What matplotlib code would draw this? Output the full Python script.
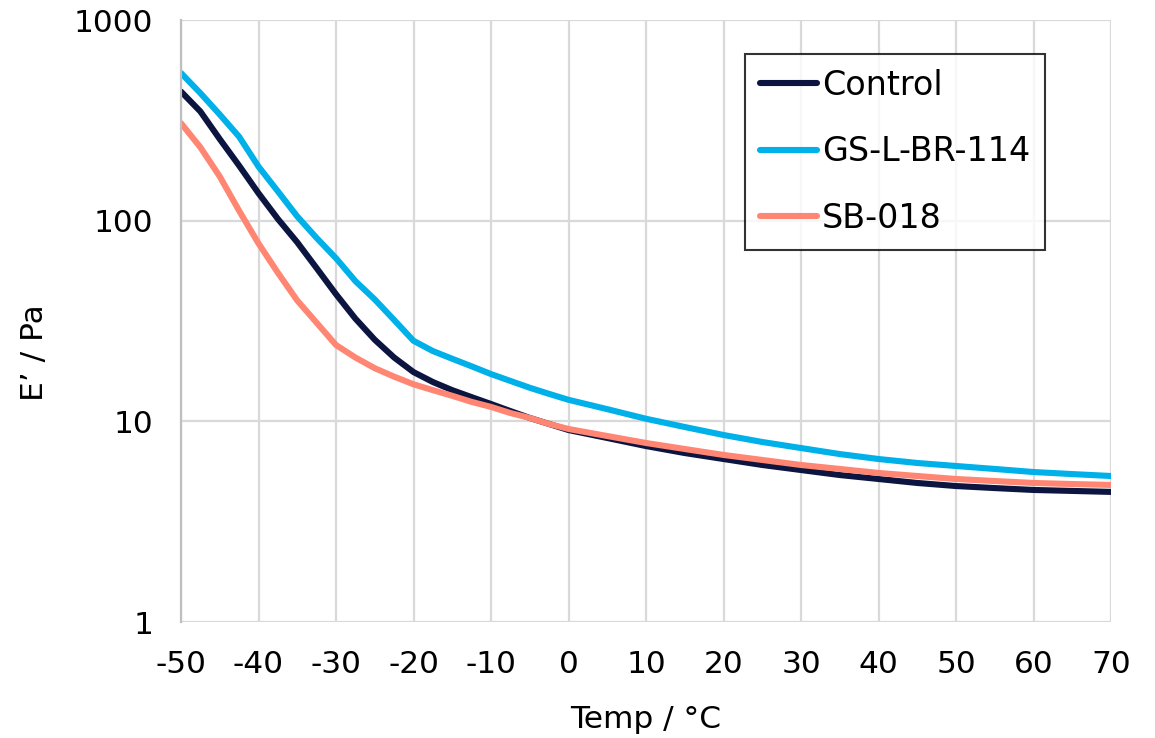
import matplotlib
matplotlib.use("Agg")
import matplotlib.pyplot as plt
import numpy as np

temps = [-50, -47.5, -45, -42.5, -40, -37.5, -35, -32.5, -30, -27.5, -25, -22.5, -20,
         -17.5, -15, -12.5, -10, -7.5, -5, -2.5, 0, 5, 10, 15, 20, 25, 30, 35, 40,
         45, 50, 55, 60, 65, 70]

control = [440, 350, 255, 188, 137, 102, 78, 58, 43, 32.5, 25.5, 20.8, 17.6,
           15.7, 14.3, 13.2, 12.2, 11.25, 10.4, 9.7, 9.05, 8.26, 7.53, 6.95, 6.49,
           6.06, 5.72, 5.40, 5.16, 4.93, 4.76, 4.65, 4.55, 4.50, 4.45]

gs_l_br_114 = [544, 432, 338, 262, 186, 140, 105, 82, 65, 50, 40.5, 32, 25.2,
               22.4, 20.5, 18.8, 17.2, 15.9, 14.7, 13.7, 12.8, 11.5, 10.3, 9.37, 8.55,
               7.89, 7.36, 6.87, 6.49, 6.20, 5.99, 5.79, 5.59, 5.46, 5.34]

sb_018 = [306, 232, 166, 112, 77, 55, 40, 31, 24, 20.8, 18.4, 16.7, 15.3,
          14.3, 13.4, 12.5, 11.8, 11.0, 10.4, 9.7, 9.16, 8.45, 7.80, 7.28, 6.80,
          6.42, 6.06, 5.79, 5.53, 5.34, 5.16, 5.04, 4.93, 4.87, 4.82]

series_names = ["Control", "GS-L-BR-114", "SB-018"]
colors = ["#0b1540", "#00b0e8", "#ff8673"]

x_ticks = [-50, -40, -30, -20, -10, 0, 10, 20, 30, 40, 50, 60, 70]
y_ticks = [1, 10, 100, 1000]

plt.rcParams['font.family'] = ['DejaVu Sans']
FS = 22.5
FS_LEG = 24

fig = plt.figure(figsize=(11.55, 7.38), dpi=100)
ax = fig.add_axes([181/1155, 1 - 622/738, (1111-181)/1155, (622-20)/738])

for name, vals, c in zip(series_names, [control, gs_l_br_114, sb_018], colors):
    ax.plot(temps, vals, color=c, lw=4.4, label=name,
            solid_capstyle='round', solid_joinstyle='round')

ax.set_yscale('log')
ax.set_xlim(-50, 70)
ax.set_ylim(1, 1000)
ax.set_xticks(x_ticks)
ax.set_xticklabels([str(t) for t in x_ticks])
ax.set_yticks(y_ticks)
ax.set_yticklabels([str(t) for t in y_ticks])
ax.yaxis.set_minor_locator(matplotlib.ticker.NullLocator())
ax.tick_params(axis='both', length=0, labelsize=FS)
ax.tick_params(axis='x', pad=20)
ax.tick_params(axis='y', pad=20)

ax.grid(True, color='#d9d9d9', lw=1.6)
ax.set_axisbelow(True)
for s in ['top', 'right', 'bottom']:
    ax.spines[s].set_visible(False)
ax.spines['left'].set_color('#bfbfbf')
ax.spines['left'].set_linewidth(1.6)

ax.set_xlabel("Temp / °C", fontsize=FS, labelpad=19)
ax.set_ylabel("E’ / Pa", fontsize=FS, va='center')
ax.yaxis.set_label_coords((35 - 181) / 930, (622 - 353) / 602)

leg = ax.legend(loc='upper left', bbox_to_anchor=((745-181)/930, 1 - (54-20)/602),
                fontsize=FS_LEG, frameon=True, fancybox=False, handlelength=1.7,
                handletextpad=0.15, labelspacing=1.0, borderpad=0.45, borderaxespad=0)
leg.get_frame().set_edgecolor('black')
leg.get_frame().set_linewidth(1.5)

fig.savefig("out.png", dpi=100)
